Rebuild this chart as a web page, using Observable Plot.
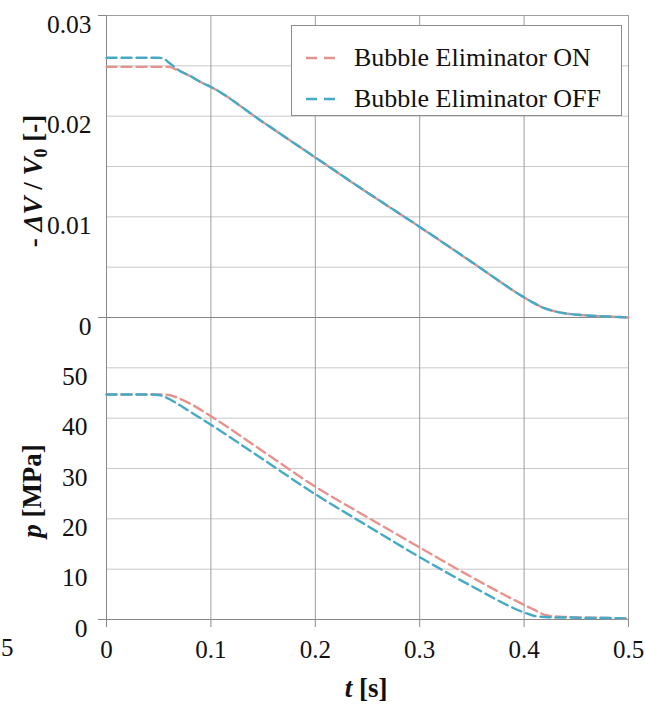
<!DOCTYPE html>
<html><head><meta charset="utf-8">
<script src="https://cdn.jsdelivr.net/npm/d3@7"></script>
<script src="https://cdn.jsdelivr.net/npm/@observablehq/plot@0.6"></script>
<style>
body{margin:0;background:#fff;}
#chart{position:relative;width:645px;height:705px;font-family:"Liberation Serif","Times New Roman","DejaVu Serif",serif;color:#111;}
#chart > svg{position:absolute;left:0;top:0;}
#chart svg text{font-family:"Liberation Serif","Times New Roman","DejaVu Serif",serif;}
#legend{position:absolute;left:291px;top:25px;width:331px;height:91px;box-sizing:border-box;border:1px solid #8c8c8c;background:#fff;z-index:5;}
.item{position:absolute;left:14px;height:30px;display:flex;align-items:center;font-size:26px;white-space:nowrap;}
.item svg{margin-right:12px;}
</style></head><body>
<div id="chart"><div id="legend"></div></div>
<script>
// ---- data ----
const seriesNames = ["Bubble Eliminator ON", "Bubble Eliminator OFF"];
const seriesColors = ["#E6938E", "#46AAC6"];
const time  = [0, 0.02, 0.04, 0.05, 0.055, 0.06, 0.065, 0.07, 0.08, 0.09, 0.1, 0.15, 0.2, 0.25, 0.3, 0.35, 0.4, 0.41, 0.42, 0.43, 0.44, 0.46, 0.48, 0.5];
const dvOn  = [0.0249,0.0249,0.0249,0.0249,0.0249,0.0249,0.0247,0.0245,0.0240,0.0234,0.0229,0.0194,0.0159,0.0124,0.0090,0.0055,0.0020,0.0014,0.0009,0.0006,0.0004,0.0002,0.0001,0.0000];
const dvOff = [0.0258,0.0258,0.0258,0.0258,0.0257,0.0253,0.0249,0.0245,0.0240,0.0234,0.0229,0.0194,0.0159,0.0124,0.0090,0.0055,0.0020,0.0014,0.0009,0.0006,0.0004,0.0002,0.0001,0.0000];
const pOn   = [44.7,44.7,44.7,44.7,44.7,44.6,44.3,43.9,42.9,41.7,40.4,33.4,26.4,20.3,14.3,8.4,2.9,1.9,0.9,0.6,0.5,0.4,0.3,0.1];
const pOff  = [44.7,44.7,44.7,44.6,44.3,43.8,43.2,42.6,41.3,40.0,38.7,31.8,24.9,18.6,12.4,6.6,1.4,0.7,0.5,0.4,0.4,0.3,0.3,0.2];
const xTicks = [0, 0.1, 0.2, 0.3, 0.4, 0.5];
const dvTicks = [0, 0.01, 0.02, 0.03];
const dvGrid = [0.005, 0.01, 0.015, 0.02, 0.025];
const pTicks = [0, 10, 20, 30, 40, 50];
const pGrid = [10, 20, 30, 40, 50];

const topData = time.flatMap((t, i) => [
  {t, v: dvOn[i], s: seriesNames[0]},
  {t, v: dvOff[i], s: seriesNames[1]}
]);
const botData = time.flatMap((t, i) => [
  {t, v: pOn[i], s: seriesNames[0]},
  {t, v: pOff[i], s: seriesNames[1]}
]);

const FONT = "'Liberation Serif', 'Times New Roman', 'DejaVu Serif', serif";
const common = {
  width: 645, marginLeft: 106, marginRight: 17,
  color: {domain: seriesNames, range: seriesColors},
  style: {background: "transparent", overflow: "visible", fontFamily: FONT, fontSize: "25.5px", color: "#111"}
};
const lineOpts = {x: "t", y: "v", z: "s", stroke: "s", strokeWidth: 2.4, strokeDasharray: "10,5", curve: "monotone-x"};
const vGrid = "#9d9d9d", hGrid = "#c8c8c8", axisC = "#888888";

const bottomChart = Plot.plot({
  ...common, height: 705, marginTop: 317, marginBottom: 86,
  x: {domain: [0, 0.5]},
  y: {domain: [0, 60]},
  marks: [
    Plot.ruleY(pGrid, {stroke: hGrid}),
    Plot.ruleX(xTicks.slice(1), {stroke: vGrid}),
    Plot.ruleX([0], {stroke: axisC}),
    Plot.ruleY([0], {stroke: axisC}),
    Plot.axisY({ticks: [0], tickSize: 8, stroke: axisC, tickFormat: () => "", label: null}),
    Plot.axisY({ticks: pTicks, tickSize: 0, tickPadding: 19, dy: 9, label: null, tickFormat: d => String(d)}),
    Plot.axisX({ticks: xTicks, tickSize: 8, tickPadding: 13, stroke: axisC, label: null, fontSize: 25, tickFormat: d => String(d)}),
    Plot.line(botData, lineOpts)
  ]
});

const topChart = Plot.plot({
  ...common, height: 330, marginTop: 15, marginBottom: 13,
  x: {domain: [0, 0.5], axis: null},
  y: {domain: [0, 0.03]},
  marks: [
    Plot.ruleY(dvGrid, {stroke: hGrid}),
    Plot.ruleX(xTicks.slice(1), {stroke: vGrid}),
    Plot.ruleY([0.03], {stroke: vGrid}),
    Plot.ruleX([0], {stroke: axisC}),
    Plot.ruleY([0], {stroke: axisC}),
    Plot.axisY({ticks: [0, 0.03], tickSize: 8, stroke: axisC, tickFormat: () => "", label: null}),
    Plot.axisY({ticks: dvTicks, tickSize: 0, tickPadding: 15, dy: 9, label: null, tickFormat: d => String(d)}),
    Plot.line(topData, lineOpts)
  ]
});

const chart = document.getElementById("chart");
chart.insertBefore(bottomChart, chart.firstChild);
chart.insertBefore(topChart, bottomChart.nextSibling);

// axis titles with mixed styles
const svg = d3.select(bottomChart);
function title(tr, size = 27, weight = "bold") {
  return svg.append("text").attr("transform", tr)
    .attr("text-anchor", "middle").attr("font-size", size).attr("font-weight", weight)
    .attr("fill", "#111").style("font-family", FONT);
}
const tl = title("translate(42,181) rotate(-90)");
tl.append("tspan").text("- ");
tl.append("tspan").attr("font-style", "italic").text("ΔV");
tl.append("tspan").text(" / ");
tl.append("tspan").attr("font-style", "italic").text("V");
tl.append("tspan").attr("font-size", 18).attr("dy", 5).text("0");
tl.append("tspan").attr("dy", -5).text(" [-]");

const pl = title("translate(41,491) rotate(-90)");
pl.append("tspan").attr("font-style", "italic").text("p");
pl.append("tspan").text(" [MPa]");

const xl = title("translate(366,697)");
xl.append("tspan").attr("font-style", "italic").text("t");
xl.append("tspan").text(" [s]");

// leftover label at the left edge of the reference
title("translate(1,656)", 25, "normal").attr("text-anchor", "start").text("5");

// legend
const legend = d3.select("#legend");
seriesNames.forEach((name, i) => {
  const it = legend.append("div").attr("class", "item").style("top", (i === 0 ? 17 : 58) + "px");
  const s = it.append("svg").attr("width", 36).attr("height", 6);
  s.append("line").attr("x1", 0).attr("x2", 36).attr("y1", 3).attr("y2", 3)
    .attr("stroke", seriesColors[i]).attr("stroke-width", 2.5).attr("stroke-dasharray", "11,7");
  it.append("span").text(name);
});
</script>
</body></html>
